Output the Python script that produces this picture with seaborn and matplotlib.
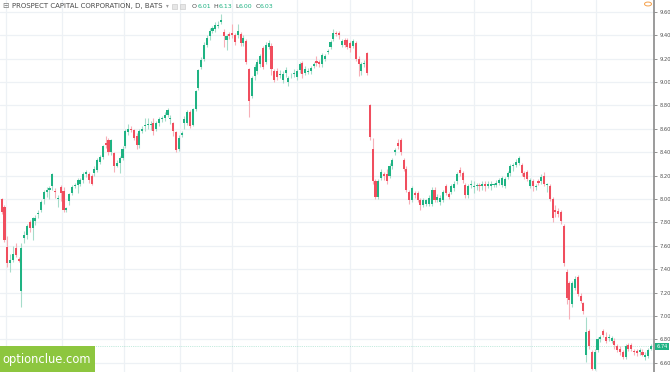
import numpy as np
import pandas as pd
import seaborn as sns
import matplotlib
matplotlib.use("Agg")
import matplotlib.pyplot as plt
from matplotlib.patches import Rectangle, Circle
from matplotlib.transforms import blended_transform_factory

# daily candles, PSEC (BATS)
opens = [8.00, 7.93, 7.59, 7.45, 7.48, 7.58, 7.49, 7.21, 7.67, 7.69, 7.80, 7.75, 7.81, 7.87, 7.91, 8.00,
         8.06, 8.08, 8.11, 8.07, 8.00, 8.10, 8.07, 7.91, 7.98, 8.05, 8.11, 8.12, 8.13, 8.16, 8.21, 8.21,
         8.20, 8.22, 8.25, 8.32, 8.36, 8.48, 8.50, 8.40, 8.39, 8.28, 8.31, 8.35, 8.45, 8.57, 8.60, 8.59,
         8.54, 8.46, 8.58, 8.62, 8.63, 8.63, 8.65, 8.60, 8.65, 8.68, 8.69, 8.72, 8.69, 8.65, 8.57, 8.43,
         8.55, 8.65, 8.65, 8.74, 8.63, 8.77, 8.95, 9.13, 9.20, 9.32, 9.39, 9.44, 9.45, 9.48, 9.51, 9.43,
         9.36, 9.41, 9.42, 9.40, 9.40, 9.41, 9.33, 9.35, 9.11, 8.88, 9.05, 9.09, 9.15, 9.29, 9.17, 9.30,
         9.31, 9.09, 9.09, 9.06, 9.02, 9.08, 9.00, 9.06, 9.07, 9.04, 9.10, 9.16, 9.08, 9.09, 9.09, 9.14,
         9.18, 9.17, 9.15, 9.20, 9.26, 9.30, 9.37, 9.42, 9.42, 9.32, 9.36, 9.36, 9.33, 9.31, 9.33, 9.20,
         9.09, 9.16, 9.25, 8.80, 8.43, 8.15, 8.02, 8.18, 8.21, 8.21, 8.20, 8.28, 8.40, 8.48, 8.50, 8.33,
         8.26, 8.06, 7.99, 8.05, 8.05, 7.99, 7.95, 7.96, 7.96, 7.96, 8.08, 7.99, 7.97, 7.99, 8.11, 8.04,
         8.06, 8.09, 8.15, 8.25, 8.22, 8.12, 8.03, 8.12, 8.11, 8.11, 8.12, 8.11, 8.13, 8.11, 8.11, 8.12,
         8.12, 8.14, 8.12, 8.11, 8.19, 8.22, 8.29, 8.29, 8.31, 8.29, 8.22, 8.23, 8.11, 8.15, 8.10, 8.15,
         8.15, 8.20, 8.12, 8.11, 8.00, 7.91, 7.90, 7.89, 7.77, 7.38, 7.28, 7.10, 7.24, 7.33, 7.17, 7.11,
         6.67, 6.87, 6.69, 6.55, 6.71, 6.80, 6.87, 6.82, 6.81, 6.79, 6.79, 6.74, 6.72, 6.69, 6.65, 6.75,
         6.75, 6.70, 6.70, 6.69, 6.69, 6.65, 6.66, 6.72]
highs = [8.01, 7.95, 7.68, 7.53, 7.60, 7.62, 7.50, 7.62, 7.73, 7.79, 7.82, 7.85, 7.86, 7.91, 7.99, 8.08,
         8.10, 8.11, 8.22, 8.09, 8.03, 8.12, 8.10, 7.93, 8.05, 8.12, 8.14, 8.18, 8.18, 8.23, 8.25, 8.23,
         8.21, 8.28, 8.35, 8.38, 8.46, 8.54, 8.52, 8.51, 8.40, 8.33, 8.37, 8.45, 8.60, 8.64, 8.62, 8.60,
         8.56, 8.60, 8.62, 8.69, 8.69, 8.67, 8.69, 8.67, 8.70, 8.71, 8.74, 8.78, 8.72, 8.66, 8.58, 8.55,
         8.58, 8.71, 8.76, 8.76, 8.78, 8.93, 9.11, 9.21, 9.34, 9.40, 9.46, 9.48, 9.51, 9.52, 9.58, 9.45,
         9.41, 9.43, 9.50, 9.42, 9.50, 9.43, 9.40, 9.37, 9.12, 9.05, 9.15, 9.20, 9.24, 9.31, 9.34, 9.36,
         9.33, 9.11, 9.12, 9.10, 9.09, 9.13, 9.05, 9.08, 9.11, 9.11, 9.17, 9.18, 9.14, 9.12, 9.14, 9.17,
         9.22, 9.19, 9.25, 9.24, 9.28, 9.36, 9.45, 9.44, 9.44, 9.37, 9.38, 9.38, 9.35, 9.37, 9.35, 9.22,
         9.17, 9.19, 9.26, 8.81, 8.52, 8.17, 8.17, 8.26, 8.23, 8.26, 8.31, 8.35, 8.44, 8.51, 8.52, 8.35,
         8.28, 8.08, 8.11, 8.07, 8.07, 8.01, 8.01, 8.00, 8.03, 8.10, 8.10, 8.04, 8.03, 8.08, 8.13, 8.06,
         8.13, 8.15, 8.23, 8.27, 8.24, 8.14, 8.13, 8.16, 8.15, 8.14, 8.14, 8.15, 8.15, 8.15, 8.15, 8.14,
         8.16, 8.18, 8.20, 8.19, 8.24, 8.30, 8.31, 8.34, 8.37, 8.31, 8.24, 8.25, 8.18, 8.17, 8.13, 8.17,
         8.21, 8.23, 8.14, 8.13, 8.02, 7.95, 7.92, 7.91, 7.79, 7.40, 7.30, 7.30, 7.34, 7.35, 7.20, 7.12,
         6.99, 6.89, 6.71, 6.72, 6.82, 6.84, 6.89, 6.86, 6.85, 6.83, 6.81, 6.76, 6.74, 6.71, 6.76, 6.77,
         6.77, 6.72, 6.72, 6.73, 6.72, 6.69, 6.73, 6.76]
lows = [7.87, 7.63, 7.42, 7.38, 7.46, 7.50, 7.46, 7.08, 7.62, 7.66, 7.72, 7.65, 7.78, 7.84, 7.89, 7.96,
        8.02, 8.00, 8.08, 8.01, 7.93, 7.98, 7.89, 7.89, 7.95, 8.03, 8.09, 8.05, 8.11, 8.14, 8.19, 8.14,
        8.12, 8.20, 8.23, 8.30, 8.34, 8.44, 8.38, 8.38, 8.23, 8.27, 8.22, 8.33, 8.44, 8.55, 8.57, 8.50,
        8.43, 8.44, 8.56, 8.58, 8.60, 8.59, 8.55, 8.58, 8.62, 8.66, 8.67, 8.70, 8.64, 8.54, 8.40, 8.41,
        8.53, 8.60, 8.63, 8.61, 8.62, 8.75, 8.93, 9.11, 9.18, 9.30, 9.36, 9.42, 9.43, 9.46, 9.50, 9.30,
        9.27, 9.37, 9.38, 9.32, 9.38, 9.31, 9.31, 9.15, 8.70, 8.86, 9.02, 9.07, 9.13, 9.11, 9.15, 9.28,
        9.06, 9.00, 9.02, 9.03, 8.99, 9.04, 8.97, 9.03, 9.04, 9.02, 9.08, 9.03, 9.06, 9.07, 9.07, 9.12,
        9.14, 9.13, 9.13, 9.18, 9.24, 9.28, 9.35, 9.39, 9.37, 9.30, 9.30, 9.28, 9.26, 9.29, 9.18, 9.05,
        9.06, 9.13, 9.06, 8.50, 8.13, 8.00, 8.00, 8.16, 8.16, 8.13, 8.18, 8.26, 8.38, 8.43, 8.38, 8.24,
        8.06, 7.96, 7.97, 8.01, 7.97, 7.91, 7.93, 7.94, 7.94, 7.94, 7.97, 7.97, 7.95, 7.97, 8.03, 8.00,
        8.04, 8.07, 8.13, 8.20, 8.14, 8.01, 8.01, 8.09, 8.05, 8.08, 8.07, 8.08, 8.07, 8.09, 8.08, 8.10,
        8.10, 8.12, 8.10, 8.09, 8.17, 8.20, 8.24, 8.27, 8.29, 8.20, 8.17, 8.15, 8.09, 8.07, 8.08, 8.12,
        8.13, 8.11, 8.06, 7.98, 7.80, 7.85, 7.85, 7.79, 7.43, 7.10, 6.97, 7.08, 7.22, 7.17, 7.11, 7.02,
        6.61, 6.72, 6.54, 6.54, 6.69, 6.78, 6.82, 6.77, 6.79, 6.77, 6.72, 6.69, 6.67, 6.63, 6.63, 6.70,
        6.70, 6.67, 6.66, 6.67, 6.66, 6.62, 6.64, 6.71]
closes = [7.89, 7.65, 7.45, 7.48, 7.53, 7.52, 7.47, 7.58, 7.69, 7.77, 7.75, 7.84, 7.84, 7.88, 7.97, 8.06,
          8.08, 8.09, 8.21, 8.06, 8.01, 8.05, 7.91, 7.92, 8.04, 8.10, 8.12, 8.16, 8.16, 8.21, 8.23, 8.16,
          8.13, 8.26, 8.33, 8.36, 8.45, 8.46, 8.40, 8.50, 8.28, 8.31, 8.35, 8.43, 8.58, 8.60, 8.59, 8.52,
          8.46, 8.58, 8.60, 8.63, 8.64, 8.64, 8.58, 8.65, 8.68, 8.69, 8.72, 8.76, 8.69, 8.58, 8.42, 8.52,
          8.56, 8.68, 8.74, 8.62, 8.77, 8.92, 9.10, 9.19, 9.32, 9.38, 9.44, 9.46, 9.49, 9.49, 9.53, 9.39,
          9.39, 9.39, 9.40, 9.34, 9.44, 9.33, 9.38, 9.17, 8.84, 9.03, 9.13, 9.17, 9.22, 9.13, 9.32, 9.33,
          9.11, 9.02, 9.04, 9.07, 9.07, 9.10, 9.03, 9.06, 9.08, 9.09, 9.15, 9.07, 9.11, 9.09, 9.12, 9.15,
          9.16, 9.15, 9.23, 9.22, 9.26, 9.34, 9.42, 9.41, 9.40, 9.35, 9.32, 9.30, 9.29, 9.35, 9.20, 9.15,
          9.15, 9.16, 9.08, 8.53, 8.15, 8.02, 8.15, 8.23, 8.20, 8.15, 8.28, 8.33, 8.42, 8.45, 8.40, 8.26,
          8.08, 7.99, 8.09, 8.03, 7.99, 7.95, 7.99, 7.99, 8.01, 8.08, 7.99, 8.02, 8.01, 8.06, 8.05, 8.02,
          8.11, 8.13, 8.21, 8.22, 8.16, 8.03, 8.11, 8.12, 8.11, 8.12, 8.11, 8.13, 8.11, 8.13, 8.13, 8.12,
          8.14, 8.16, 8.18, 8.17, 8.22, 8.28, 8.29, 8.32, 8.35, 8.22, 8.19, 8.17, 8.16, 8.11, 8.11, 8.14,
          8.19, 8.13, 8.12, 8.00, 7.84, 7.89, 7.87, 7.81, 7.45, 7.15, 7.14, 7.28, 7.32, 7.19, 7.13, 7.04,
          6.86, 6.74, 6.55, 6.69, 6.80, 6.82, 6.84, 6.79, 6.82, 6.81, 6.75, 6.71, 6.69, 6.65, 6.74, 6.72,
          6.72, 6.69, 6.68, 6.71, 6.67, 6.67, 6.71, 6.74]

# month boundaries (candle index) and price axis labels
month_lines = [1.5, 21.5, 43.5, 63.5, 82, 105, 124, 146, 168, 188.5, 211.5]
price_ticks = [6.60, 6.80, 7.00, 7.20, 7.40, 7.60, 7.80, 8.00, 8.20, 8.40, 8.60, 8.80, 9.00, 9.20, 9.40, 9.60]
last_price = 6.74
header_ohlc = [('O', '6.01'), ('H', '6.13'), ('L', '6.00'), ('C', '6.03')]

df = pd.DataFrame({'open': opens, 'high': highs, 'low': lows, 'close': closes})
df['day'] = np.arange(len(df))
df['up'] = df['close'] >= df['open']

up_col, down_col = '#1fb383', '#f04e5e'
up_wick, down_wick = '#a6dcca', '#f7b0b8'

sns.set_theme(style="white")
plt.rcParams['font.family'] = ['DejaVu Sans']

fig = plt.figure(figsize=(6.7, 3.72), dpi=100)
ax = fig.add_axes([0, 0, 654 / 670, 1])

# wicks then bodies
ax.vlines(df['day'], df['low'], df['high'],
          colors=np.where(df['up'], up_wick, down_wick), lw=0.8, zorder=2)
body = (df['close'] - df['open']).abs().clip(lower=0.008)
bottom = df[['open', 'close']].min(axis=1) - np.where(body <= 0.008, 0.004, 0)
ax.bar(df['day'], body, bottom=bottom, width=0.74,
       color=np.where(df['up'], up_col, down_col), lw=0, zorder=3)

ax.set_xlim(-0.6, 232.1)
ax.set_ylim(6.521, 9.701)
ax.set_xticks(month_lines)
ax.set_yticks(price_ticks)
ax.set_yticklabels([f'{t:.2f}' for t in price_ticks])
ax.grid(True, color='#edf1f5', lw=0.9, zorder=0)
ax.tick_params(axis='x', length=0, labelbottom=False)
ax.yaxis.tick_right()
ax.tick_params(axis='y', length=2.5, width=0.6, color='#808080',
               labelsize=3.7, labelcolor='#505050', pad=1.2)
for side in ['top', 'left', 'bottom']:
    ax.spines[side].set_visible(False)
ax.spines['right'].set_color('#8a8a8a')
ax.spines['right'].set_linewidth(1.2)

# last price marker
trans = blended_transform_factory(ax.transAxes, ax.transData)
ax.axhline(last_price, color=up_col, lw=0.5, ls=':', alpha=0.5, zorder=1)
ax.text(1.004, last_price, f'{last_price:.2f}', transform=trans, ha='left', va='center',
        fontsize=3.7, color='white', clip_on=False, zorder=5,
        bbox=dict(boxstyle='square,pad=0.25', fc=up_col, ec='none'))

# header
W, H = 670, 372
fig.text(2 / W, 1 - 6 / H, '\u229f', fontsize=5.5, color='#777777', va='center')
fig.text(12 / W, 1 - 6 / H, 'PROSPECT CAPITAL CORPORATION, D, BATS',
         fontsize=5.0, color='#4a4a4a', va='center')
fig.text(166 / W, 1 - 6 / H, '\u25be', fontsize=4, color='#9a9a9a', va='center')
for px in [172, 180]:
    fig.patches.append(Rectangle((px / W, 1 - 8.5 / H), 5 / W, 5 / H, transform=fig.transFigure,
                                 fc='#e6e6e6', ec='#c4c4c4', lw=0.4))

# OHLC readout, each piece placed right after the previous one
anchor = None
for letter, val in header_ohlc:
    if anchor is None:
        lab = fig.text(192 / W, 1 - 6 / H, letter, fontsize=4.5, color='#4a4a4a', va='center')
    else:
        lab = ax.annotate(letter, xy=(1, 0.5), xycoords=anchor, xytext=(2.0, 0),
                          textcoords='offset points', va='center', ha='left',
                          fontsize=4.5, color='#4a4a4a', annotation_clip=False)
    anchor = ax.annotate(val, xy=(1, 0.5), xycoords=lab, xytext=(0.2, 0),
                         textcoords='offset points', va='center', ha='left',
                         fontsize=4.5, color=up_col, annotation_clip=False)

# alert icon top right
fig.patches.append(Circle((648 / W, 1 - 4 / H), 3.5 / W, transform=fig.transFigure,
                          fc='none', ec='#f5a04a', lw=0.7))

# watermark
fig.patches.append(Rectangle((0, 0), 95 / W, 26 / H, transform=fig.transFigure,
                             fc='#8dc63f', ec='none', zorder=10))
fig.text(47 / W, 13 / H, 'optionclue.com', fontsize=8.3, color='white',
         ha='center', va='center', zorder=11)

fig.savefig('out.png', dpi=100)
